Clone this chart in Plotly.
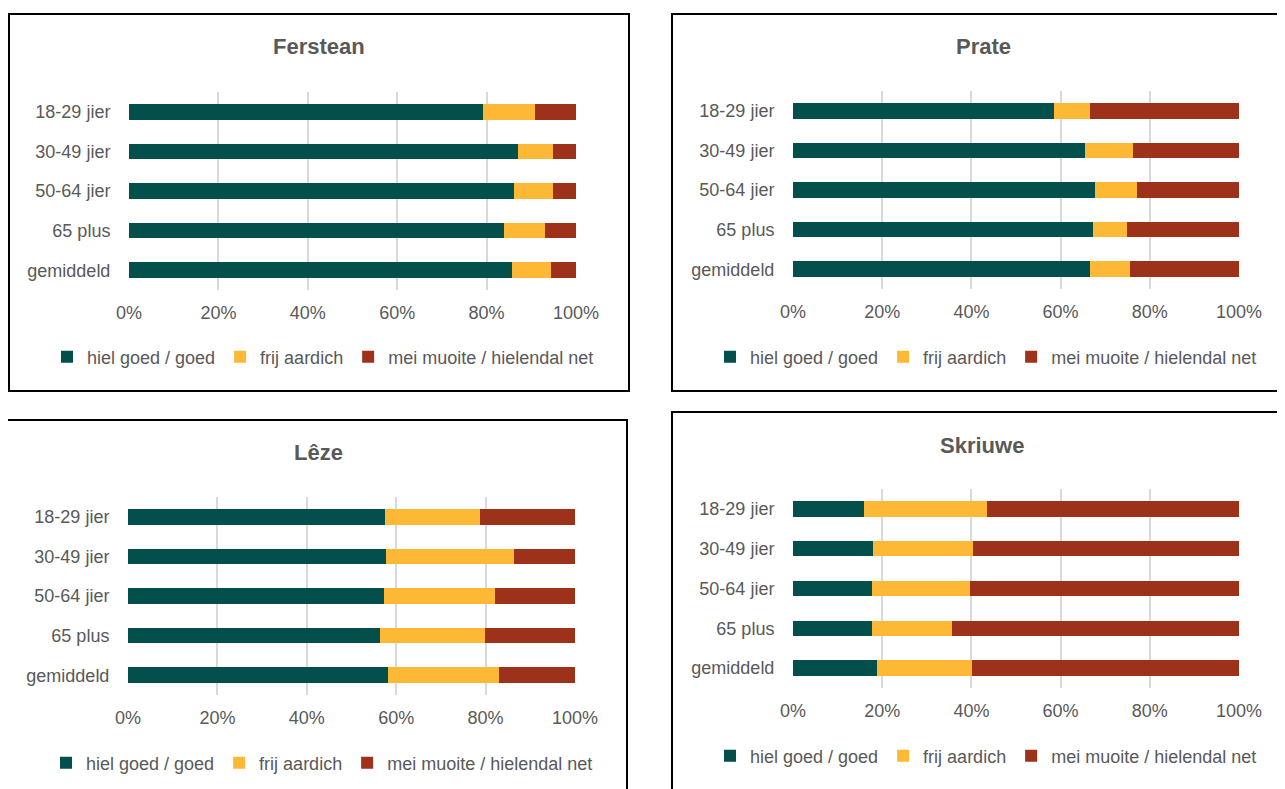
import plotly.graph_objects as go

W, H = 1285, 789
PAGE_OFFSET = 8  # body margin of the html page

groups = ["18-29 jier", "30-49 jier", "50-64 jier", "65 plus", "gemiddeld"]
series_names = ["hiel goed / goed", "frij aardich", "mei muoite / hielendal net"]
colors = ["#034f4b", "#fdb935", "#9e311a"]

# percentages per panel: [goed, frij aardich, mei muoite]
ferstean_goed = [79.2, 87.0, 86.1, 83.9, 85.7]
ferstean_frij = [11.7, 7.9, 8.8, 9.2, 8.6]
ferstean_muoite = [9.1, 5.1, 5.1, 6.9, 5.7]

prate_goed = [58.6, 65.4, 67.7, 67.2, 66.5]
prate_frij = [8.1, 10.9, 9.4, 7.7, 9.0]
prate_muoite = [33.3, 23.7, 22.9, 25.1, 24.5]

leze_goed = [57.5, 57.7, 57.2, 56.4, 58.1]
leze_frij = [21.3, 28.6, 24.8, 23.5, 24.8]
leze_muoite = [21.2, 13.7, 18.0, 20.1, 17.1]

skriuwe_goed = [15.9, 17.9, 17.6, 17.8, 18.8]
skriuwe_frij = [27.5, 22.5, 22.1, 17.9, 21.3]
skriuwe_muoite = [56.6, 59.6, 60.3, 64.3, 59.9]

titles = ["Ferstean", "Prate", "Lêze", "Skriuwe"]
x_ticks = [0, 20, 40, 60, 80, 100]
x_labels = ["0%", "20%", "40%", "60%", "80%", "100%"]

panels = [
    (ferstean_goed, ferstean_frij, ferstean_muoite),
    (prate_goed, prate_frij, prate_muoite),
    (leze_goed, leze_frij, leze_muoite),
    (skriuwe_goed, skriuwe_frij, skriuwe_muoite),
]

# layout in screen pixels: plot area (x0, x1, y0, y1), border box, title, legend
plot_px = [(129, 576, 92, 290), (793, 1239, 91, 289), (128, 575, 497, 695), (793, 1239, 489, 688)]
border_px = [(9, 629, 14, 391), (672, 1300, 14, 391), (7, 627, 420, 810), (672, 1300, 412, 810)]
title_px = [(319, 47), (983, 46), (318, 452), (982, 445)]
legend_px = [(323, 357), (986, 357), (322, 763), (986, 756)]

grey = "#595959"
font = "Liberation Sans, Arial, sans-serif"

def px_x(v):
    return (v - PAGE_OFFSET) / W

def px_y(v):
    return 1 - (v - PAGE_OFFSET) / H

fig = go.Figure()
layout = dict(
    width=W, height=H,
    margin=dict(l=0, r=0, t=0, b=0, autoexpand=False),
    paper_bgcolor="white", plot_bgcolor="white",
    barmode="stack", bargap=0.61,
    font=dict(family=font, size=18, color=grey),
    shapes=[], annotations=[],
)

for i, vals in enumerate(panels):
    n = "" if i == 0 else str(i + 1)
    leg = "legend" if i == 0 else "legend" + str(i + 1)
    for name, col, v in zip(series_names, colors, vals):
        fig.add_trace(go.Bar(
            y=groups, x=v, orientation="h", name=name,
            marker=dict(color=col, line=dict(width=0)),
            xaxis="x" + n, yaxis="y" + n, legend=leg,
        ))
    x0, x1, y0, y1 = plot_px[i]
    layout["xaxis" + n] = dict(
        domain=[px_x(x0), px_x(x1)], anchor="y" + n, range=[0, 100],
        tickvals=x_ticks, ticktext=x_labels, showgrid=True,
        gridcolor="#d9d9d9", gridwidth=1.5, zeroline=False,
        ticks="outside", ticklen=6, tickcolor="rgba(0,0,0,0)",
        tickfont=dict(size=18, color=grey), fixedrange=True,
    )
    layout["yaxis" + n] = dict(
        domain=[px_y(y1), px_y(y0)], anchor="x" + n,
        categoryorder="array", categoryarray=groups, autorange="reversed",
        showgrid=False, zeroline=False,
        ticks="outside", ticklen=14, tickcolor="rgba(0,0,0,0)",
        tickfont=dict(size=18, color=grey), fixedrange=True,
    )
    lx, ly = legend_px[i]
    layout[leg] = dict(
        orientation="h", x=px_x(lx), y=px_y(ly),
        xanchor="center", yanchor="middle", xref="paper", yref="paper",
        traceorder="normal",
        font=dict(size=18, color=grey), bgcolor="rgba(0,0,0,0)",
        itemclick=False, itemdoubleclick=False,
    )
    bx0, bx1, by0, by1 = border_px[i]
    layout["shapes"].append(dict(
        type="rect", xref="paper", yref="paper",
        x0=px_x(bx0), x1=px_x(bx1), y0=px_y(by1), y1=px_y(by0),
        line=dict(color="black", width=2), layer="above",
    ))
    tx, ty = title_px[i]
    layout["annotations"].append(dict(
        text="<b>" + titles[i] + "</b>", xref="paper", yref="paper",
        x=px_x(tx), y=px_y(ty), showarrow=False,
        xanchor="center", yanchor="middle",
        font=dict(size=22, color=grey, family=font),
    ))

fig.update_layout(**layout)
fig.write_html("out.html")
